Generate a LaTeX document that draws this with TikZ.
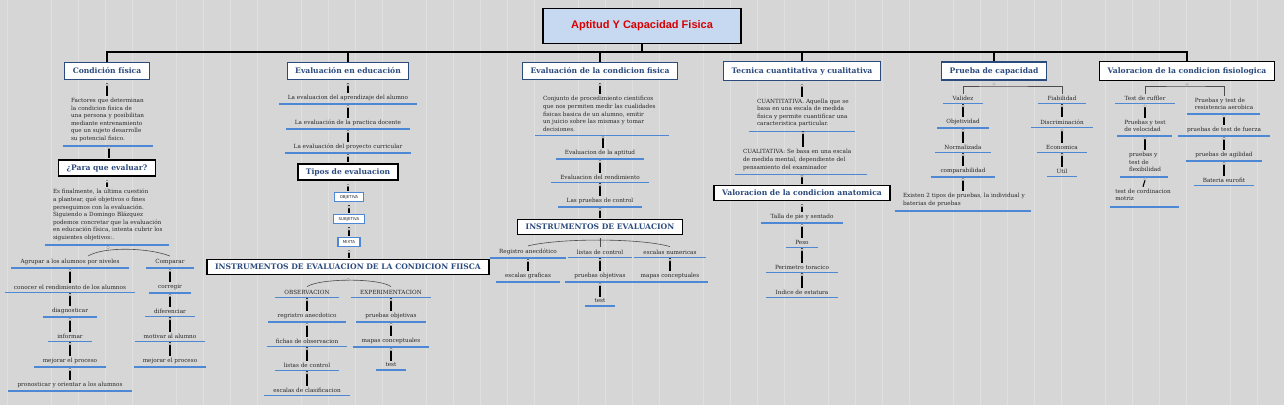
\documentclass[tikz,border=0pt]{standalone}
\usepackage{fontspec}
\setmainfont{DejaVu Serif}
\newfontfamily\titlefont{Liberation Sans}
\newfontfamily\boxfont{DejaVu Sans}
\usetikzlibrary{calc}
\hyphenpenalty=10000
\exhyphenpenalty=10000
\definecolor{bg}{HTML}{D6D6D6}
\definecolor{hdr}{HTML}{2B4A7E}
\definecolor{ul}{HTML}{4C88D6}
\definecolor{ttl}{HTML}{C6D9F0}
\definecolor{txt}{HTML}{262626}
\tikzset{
 item/.style={font=\fontsize{5.7}{7.6}\selectfont, text=txt, inner sep=1pt, align=center},
 para/.style={item, align=left},
 hbox/.style={draw=hdr, line width=1.4pt, fill=white, text=hdr, font=\fontsize{7.6}{8.5}\selectfont\bfseries, inner xsep=8pt, inner ysep=5.5pt},
 kbox/.style={hbox, draw=black, inner ysep=4.5pt},
 sbox/.style={draw=ul, line width=1.2pt, fill=white, font=\boxfont\fontsize{4}{5}\selectfont, text=txt, inner xsep=5pt, inner ysep=3pt},
 uline/.style={draw=ul, line width=1.6pt},
 conn/.style={draw=black, line width=1.1pt},
 bus/.style={draw=black, line width=1.4pt},
 dotc/.style={draw=gray!80, fill=white, line width=0.4pt},
 brc/.style={draw=black!70, line width=0.6pt},
}
\newcommand\itm[3]{\node[item] (#1) at (#2) {#3};
 \draw[uline] ([xshift=-8pt,yshift=-2pt]#1.south west) -- ([xshift=8pt,yshift=-2pt]#1.south east);}
\newcommand\prg[4]{\node[para,text width=#3] (#1) at (#2) {#4};
 \draw[uline] ([xshift=-7pt,yshift=-3pt]#1.south west) -- ([xshift=5pt,yshift=-3pt]#1.south east);}
\newcommand\lnk[2]{\draw[conn] ([yshift=-3pt]#1.south) -- ([yshift=1pt]#1.south |- #2.north);
 \draw[dotc] ([yshift=-4.5pt]#1.south) circle (1.3pt);}
\begin{document}
\begin{tikzpicture}[x=1pt,y=-1pt]
\fill[bg] (0,0) rectangle (1284,405);
\useasboundingbox (0,0) rectangle (1284,405);
\foreach \i/\w in {0/0.3,1/0.6,2/0.4,3/0.8,4/0.3,5/0.5,6/0.7,7/0.4,8/0.3,9/0.6,10/0.5,11/0.4,12/0.8,13/0.3,14/0.6,15/0.4,16/0.5,17/0.7,18/0.3,19/0.4,20/0.6,21/0.3,22/0.5,23/0.8,24/0.4,25/0.3,26/0.6,27/0.5,28/0.4,29/0.7,30/0.3,31/0.5,32/0.6,33/0.4,34/0.3,35/0.7,36/0.5,37/0.4,38/0.6,39/0.3,40/0.5}{\draw[white!25!bg,line width=\w pt] ({\i*31+7+mod(\i*13,17)},0) -- ({\i*31+7+mod(\i*13,17)},405);}
% title
\node[draw=black, line width=1.5pt, fill=ttl, minimum width=198pt, minimum height=35pt, text=red!85!black, font=\titlefont\fontsize{11}{12}\selectfont\bfseries] (title) at (642,26) {Aptitud Y Capacidad Fisica};
\coordinate (j) at (642,52);
\node[hbox] (b1) at (107,71) {Condición física};
\node[hbox] (b2) at (348,71) {Evaluación en educación};
\node[hbox] (b3) at (600,71) {Evaluación de la condicion fisica};
\node[hbox] (b4) at (802,71) {Tecnica cuantitativa y cualitativa};
\node[hbox] (b5) at (994,71) {Prueba de capacidad};
\node[kbox, inner ysep=5.5pt] (b6) at (1187,71) {Valoracion de la condicion fisiologica};
\draw[bus] (title.south) -- (j);
\foreach \b in {b1,b2,b3,b4,b5,b6}{\draw[bus] (\b.north) |- (j);}
% column 1
\prg{c1p}{109,120}{76pt}{Factores que determinan la condicion fisica de una persona y posibilitan mediante entrenamiento que un sujeto desarrolle su potencial fisico.}
\lnk{b1}{c1p}
\node[kbox] (pqe) at (107,168) {¿Para que evaluar?};
\lnk{c1p}{pqe}
\prg{c1q}{108,215}{110pt}{Es finalmente, la última cuestión a plantear, qué objetivos o fines perseguimos con la evaluación. Siguiendo a Domingo Blázquez podemos concretar que la evaluación en educación física, intenta cubrir los siguientes objetivos:.}
\lnk{pqe}{c1q}
\itm{a1}{70,262}{Agrupar a los alumnos por niveles}
\itm{a2}{70,287}{conocer el rendimiento de los alumnos}
\itm{a3}{70,311}{diagnosticar}
\itm{a4}{70,336}{informar}
\itm{a5}{70,361}{mejorar el proceso}
\itm{a6}{70,385}{pronosticar y orientar a los alumnos}
\itm{r1}{170,262}{Comparar}
\itm{r2}{170,287}{corregir}
\itm{r3}{170,311}{diferenciar}
\itm{r4}{170,336}{motivar al alumno}
\itm{r5}{170,361}{mejorar el proceso}
\draw[dotc] ([yshift=-5.5pt]c1q.south) circle (1.3pt);
\draw[brc] ([xshift=18pt,yshift=2pt]a1.north) .. controls (105,246) and (150,248) .. ([yshift=2pt]r1.north);
\lnk{a1}{a2}\lnk{a2}{a3}\lnk{a3}{a4}\lnk{a4}{a5}\lnk{a5}{a6}
\lnk{r1}{r2}\lnk{r2}{r3}\lnk{r3}{r4}\lnk{r4}{r5}
% column 2
\itm{e1}{348,98}{La evaluacion del aprendizaje del alumno}
\itm{e2}{348,123}{La evaluación de la practica docente}
\itm{e3}{348,147}{La evaluación del proyecto curricular}
\lnk{b2}{e1}\lnk{e1}{e2}\lnk{e2}{e3}
\node[kbox] (tip) at (348,172) {Tipos de evaluacion};
\lnk{e3}{tip}
\node[sbox] (obj) at (349,197) {OBJETIVA};
\node[sbox] (sub) at (349,219) {SUBJETIVA};
\node[sbox] (mix) at (349,242) {MIXTA};
\lnk{tip}{obj}\lnk{obj}{sub}\lnk{sub}{mix}
\node[kbox] (ins) at (348,267) {INSTRUMENTOS DE EVALUACION DE LA CONDICION FIISCA};
\lnk{mix}{ins}
\itm{o1}{307,292}{OBSERVACION}
\itm{o2}{307,316}{regristro anecdotico}
\itm{o3}{307,341}{fichas de observacion}
\itm{o4}{307,365}{listas de control}
\itm{o5}{307,390}{escalas de clasificacion}
\itm{x1}{391,292}{EXPERIMENTACION}
\itm{x2}{391,316}{pruebas objetivas}
\itm{x3}{391,341}{mapas conceptuales}
\itm{x4}{391,365}{test}
\draw[dotc] ([yshift=-4.5pt]ins.south) circle (1.3pt);
\draw[brc] ([yshift=2pt]o1.north) .. controls (320,278) and (380,278) .. ([yshift=2pt]x1.north);
\lnk{o1}{o2}\lnk{o2}{o3}\lnk{o3}{o4}\lnk{o4}{o5}
\lnk{x1}{x2}\lnk{x2}{x3}\lnk{x3}{x4}
% column 3
\prg{c3p}{603,114}{120pt}{Conjunto de procedimiento cientificos que nos permiten medir las cualidades fisicas basica de un alumno, emitir un juicio sobre las mismas y tomar decisiones.}
\lnk{b3}{c3p}
\itm{f1}{600,153}{Evaluacion de la aptitud}
\itm{f2}{600,177}{Evaluacion del rendimiento}
\itm{f3}{600,201}{Las pruebas de control}
\lnk{c3p}{f1}\lnk{f1}{f2}\lnk{f2}{f3}
\node[kbox] (ins2) at (600,227) {INSTRUMENTOS DE EVALUACION};
\lnk{f3}{ins2}
\itm{g1}{528,252}{Registro anecdótico}
\itm{g2}{600,252}{listas de control}
\itm{g3}{670,252}{escalas numericas}
\itm{h1}{528,276}{escalas graficas}
\itm{h2}{600,276}{pruebas objetivas}
\itm{h3}{670,276}{mapas conceptuales}
\itm{h4}{600,301}{test}
\draw[dotc] ([yshift=-4.5pt]ins2.south) circle (1.3pt);
\draw[brc] ([yshift=2pt]g1.north) .. controls (560,238) and (640,238) .. ([yshift=2pt]g3.north);
\draw[brc] ([yshift=-3pt]ins2.south) -- ([yshift=2pt]g2.north);
\lnk{g1}{h1}\lnk{g2}{h2}\lnk{g3}{h3}\lnk{h2}{h4}
% column 4
\prg{c4a}{803,113}{92pt}{CUANTITATIVA. Aquella que se basa en una escala de medida fisica y permite cuantificar una caracteristica particular.}
\prg{c4b}{802,160}{118pt}{CUALITATIVA: Se basa en una escala de medida mental, dependiente del pensamiento del examinador}
\lnk{b4}{c4a}\lnk{c4a}{c4b}
\node[kbox] (van) at (802,193) {Valoracion de la condicion anatomica};
\lnk{c4b}{van}
\itm{t1}{802,217}{Talla de pie y sentado}
\itm{t2}{802,242}{Peso}
\itm{t3}{802,267}{Perimetro toracico}
\itm{t4}{802,292}{Indice de estatura}
\lnk{van}{t1}\lnk{t1}{t2}\lnk{t2}{t3}\lnk{t3}{t4}
% column 5
\coordinate (k5) at (994,86);
\itm{v1}{963,98}{Validez}
\itm{v2}{963,122}{Objetividad}
\itm{v3}{963,147}{Normalizada}
\itm{v4}{963,171}{comparabilidad}
\prg{v5}{964,200}{122pt}{Existen 2 tipos de pruebas, la individual y baterias de pruebas}
\itm{w1}{1062,98}{Fiabilidad}
\itm{w2}{1062,122}{Discriminación}
\itm{w3}{1062,147}{Economica}
\itm{w4}{1062,171}{Util}
\draw[brc] ([yshift=1pt]v1.north) |- (k5) -| ([yshift=1pt]w1.north);
\draw[dotc] ([yshift=-3pt]b5.south) circle (1.3pt);
\lnk{v1}{v2}\lnk{v2}{v3}\lnk{v3}{v4}\lnk{v4}{v5}
\lnk{w1}{w2}\lnk{w2}{w3}\lnk{w3}{w4}
% column 6
\coordinate (k6) at (1187,86);
\itm{p1}{1145,98}{Test de ruffler}
\node[item,align=left] (p2) at (1145,126) {Pruebas y test\\de velocidad};
\draw[uline] (1117,136) -- (1172,136);
\node[item,align=left] (p3) at (1145,162) {pruebas y\\test de\\flexibilidad};
\draw[uline] (1120,177) -- (1168,177);
\node[item,align=left] (p4) at (1143,195) {test de cordinacion\\motriz};
\draw[uline] (1110,207) -- (1179,207);
\node[item,align=left] (q1) at (1224,104) {Pruebas y test de\\resistencia aerobica};
\draw[uline] (1187,114) -- (1260,114);
\itm{q2}{1224,130}{pruebas de test de fuerza}
\itm{q3}{1224,155}{pruebas de agilidad}
\itm{q4}{1224,180}{Bateria eurofit}
\draw[brc] ([yshift=1pt]p1.north) |- (k6) -| ([yshift=1pt]q1.north);
\draw[dotc] ([yshift=-3pt]b6.south) circle (1.3pt);
\draw[conn] (1145,107) -- ([yshift=1pt]p2.north);
\draw[dotc] (1145,106) circle (1.3pt);
\draw[conn] (1145,139) -- ([yshift=1pt]p3.north);
\draw[dotc] (1145,138) circle (1.3pt);
\draw[conn] (1145,180) -- ([yshift=1pt]p4.north);
\draw[dotc] (1145,179) circle (1.3pt);
\draw[conn] (1224,117) -- ([yshift=1pt]q2.north);
\draw[dotc] (1224,116) circle (1.3pt);
\lnk{q2}{q3}\lnk{q3}{q4}
\end{tikzpicture}
\end{document}
